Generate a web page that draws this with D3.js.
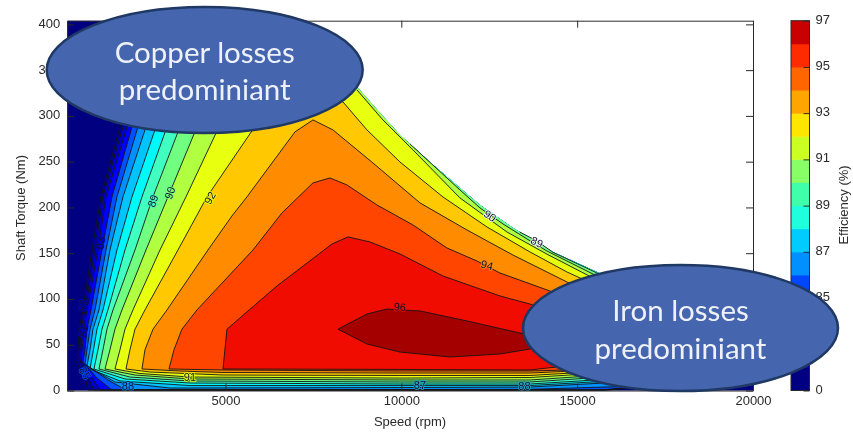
<!DOCTYPE html>
<html><head><meta charset="utf-8">
<script src="https://cdn.jsdelivr.net/npm/d3@7/dist/d3.min.js"></script>
<style>html,body{margin:0;padding:0;background:#fff}svg{display:block}</style>
</head><body><svg id="c" width="853" height="432"></svg>
<script>
// ---- axis ticks ----
const speedTicks = [5000, 10000, 15000, 20000];
const torqueTicks = [0, 50, 100, 150, 200, 250, 300, 350, 400];
const barLevels = [0, 82, 83, 84, 85, 86, 87, 88, 89, 90, 91, 92, 93, 94, 95, 96, 97];
const barTicks = [0, 85, 87, 89, 91, 93, 95, 97];
const barColors = ["#000080","#0000a8","#0000d0","#0000ff","#0048ff","#0090ff","#00ccff","#20ffdd","#40ffaa","#88ff66","#ccff22","#ffe600","#ffa500","#ff6600","#ff2b00","#c80000"];

// ---- operating envelope [rpm, Nm] ----
const envelope = [[7118,404],[8739,331.7],[9392,303.3],[9961,279.2],[10899,246.5],[11667,221.3],[12235,202.7],[13174,177.6],[14311,151.4],[15561,129.5],[17069,99]];
const envelopeEnd = [[18490,75],[20000,55]];

// ---- efficiency contours: left and bottom branch [rpm, Nm] ----
const c81 = [[2228,317.5],[2001,288],[1460,211.5],[1205,153.5],[949,88],[835,67],[807,44.5],[778,30],[1006,13.6],[1091,0.5],[15600,0.5],[17069,4]];
const c82 = [[2313,317.5],[2086,288],[1517,211.5],[1290,153.5],[1006,88],[892,67],[863,44.5],[835,35.5],[1091,13.6],[1261,0.5],[15700,0.5],[17069,5]];
const c83 = [[2427,317.5],[2200,288],[1603,211.5],[1375,153.5],[1062,88],[977,67],[920,44.5],[892,33.3],[1205,13.6],[1432,0.5],[15800,0.5],[17069,6]];
const c84 = [[2598,317.5],[2342,288],[1773,211.5],[1489,153.5],[1176,88],[1062,67],[1006,44.5],[949,31],[1347,13.6],[1773,0.5],[15931,0.5],[17069,7]];
const c85 = [[2768,317.5],[2512,288],[1915,211.5],[1603,153.5],[1290,88],[1148,67],[1062,44.5],[1006,28.9],[1659,11.5],[2143,1.1],[3280,0.9],[7601,0.9],[13657,1.3],[16784,4.9],[17353,9.3]];
const c86 = [[2996,317.5],[2740,288],[2086,211.5],[1716,153.5],[1404,88],[1233,67],[1148,44.5],[1062,26.8],[1858,9.3],[3422,2.7],[9961,3.2],[13657,3.8],[17353,11.5]];
const c87 = [[3280,317.5],[3024,288],[2342,211.5],[1915,153.5],[1517,88],[1347,67],[1247,44.5],[1148,23.5],[2001,10.4],[3991,5.4],[9961,5.4],[13657,5.4],[17353,13.6]];
const c88 = [[3621,317.5],[3337,288],[2626,211.5],[2143,153.5],[1659,88],[1489,67],[1375,44.5],[1261,23.5],[2143,12.6],[3991,8.2],[9961,7.1],[13657,7.1],[17353,15.8]];
const c89 = [[3991,317.5],[3706,288],[2939,211.5],[2427,153.5],[1802,88],[1631,67],[1517,44.5],[1404,23.5],[2285,14.7],[3991,10.4],[9961,9.3],[13657,9.3],[17069,18]];
const c90 = [[4502,317.5],[4190,288],[3365,211.5],[2740,153.5],[2057,88],[1858,67],[1716,44.5],[1574,23.5],[2427,16.9],[3991,12.6],[9961,11.5],[13657,11.5],[17069,20.2]];
const c91 = [[5185,317.5],[4815,288],[3877,211.5],[3138,153.5],[2370,88],[2143,67],[2001,44.5],[1858,23.5],[2569,18.6],[3991,14.7],[9961,13.6],[13657,14.2],[17069,22.4]];
const c92 = [[6322,317.5],[5753,283.6],[4474,211.5],[3650,153.5],[2711,88],[2427,67],[2285,44.5],[2171,23.5],[2854,20.2],[4929,16.9],[9961,16.4],[13657,16.4],[16784,23.5]];
const c93 = [[6976,282.5],[5611,211.5],[5185,190.7],[4502,153.5],[3337,88],[2939,67],[2711,44.5],[2626,23.5],[3706,21.3],[4929,19.7],[9961,19.1],[13657,19.1],[16784,24.6]];
const c94 = [[7488,226.8],[6606,194],[5782,153.5],[4190,88],[3763,67],[3536,44.5],[3394,23.5],[4929,22.4],[9961,21.3],[13657,21.3],[16784,24.6]];
const c95 = [[8028,160],[6464,114.2],[5043,67],[4929,23.5],[9961,23],[13657,22.4],[15647,31]];
const c96 = [[8198,67],[9023,83.6],[9591,89],[10530,86.9],[11866,76],[13373,62.8],[14794,55],[13657,45.3],[12804,39.9],[11383,36.6],[10530,39.9],[9961,42],[9023,50.8]];

// ---- upper-right branches [rpm, Nm] ----
const u89 = [[13373,173],[13856,163.4],[14311,151],[15561,128.5],[17069,99]];
const u90 = [[10245,269.4],[11667,219.1],[12235,199.5],[12889,182],[13572,165.6],[14140,152.4],[15448,127.3],[17069,95]];
const u91 = [[8739,328.4],[9477,295.6],[10330,262.9],[11667,210.4],[13003,173.2],[14140,149],[15448,123],[17353,88]];
const u92 = [[7118,333.9],[8340,315.3],[9023,284.7],[9961,249.7],[11183,211.5],[12434,178.7],[13657,151.4],[14709,129.5],[17069,88]];
const u93 = [[7488,295.6],[8056,284.7],[9193,248.6],[10530,205],[11866,175.4],[13174,148],[14709,118.6],[16784,77]];
const u94 = [[7971,232.2],[8454,224.6],[9307,202.7],[10330,180.9],[11297,155.7],[12150,141.5],[12804,128.4],[14226,108.7],[16215,77]];
const u95 = [[8483,167.8],[9108,162.3],[9961,149.2],[11183,125.1],[12804,103.3],[13657,94.5],[15647,66]];

const contourLevels = [81,82,83,84,85,86,87,88,89,90,91,92,93,94,95,96];
const contourLower = [c81,c82,c83,c84,c85,c86,c87,c88,c89,c90,c91,c92,c93,c94,c95,c96];
const contourFills = ["#00009a","#0000c8","#0000ff","#0050ff","#0090ff","#00c4ff","#00f8f8","#40ffc0","#70ff80","#b0ff40","#e8ff10","#ffc800","#ff8c00","#ff4500","#f00c00","#a50000"];

// ---- contour labels ----
const labelText = ["81","82","83","85","88","89","90","92","91","94","96","90","89","87","88"];
const labelSpeed = [949,949,1432,1006,2228,2939,3422,4559,3991,12434,9961,12520,13856,10530,13500];
const labelTorque = [65,93,161,19,4.9,207,215.8,210.4,14.7,137,91.3,190.7,162,6,4.9];
const labelAngle = [-80,-80,-80,60,0,-70,-70,-60,0,15,5,35,25,0,0];
const labelBack = ["#0000c8","#0000c8","#0000c8","#0050ff","#0090ff","#40ffc0","#70ff80","#e8ff10","#e8ff10","#ff8c00","#f00c00","#ffffff","#ffffff","#20a8c8","#20a8c8"];

// ---- layout ----
const svg = d3.select("#c");
const sans = "'Liberation Sans', Arial, sans-serif";
const ink = "#2a2a2a";
const x = d3.scaleLinear().domain([500, 20000]).range([67.2, 753]);
const y = d3.scaleLinear().domain([0, 404]).range([390.5, 20.7]);
const root = svg.append("g").style("filter", "blur(0.4px)");

// plot fills
const line = d3.line().x(d => x(d[0])).y(d => y(d[1]));
root.append("path")
  .attr("d", line([[500,0],[500,404]].concat(envelope, envelopeEnd, [[20000,0]])) + "Z")
  .attr("fill", "#000080");
const upperOf = {89: envelope.filter(d => d[0] <= 13174).concat(u89),
                 90: envelope.filter(d => d[0] <= 9961).concat(u90),
                 91: u91, 92: u92, 93: u93, 94: u94, 95: u95, 96: []};
contourLevels.forEach((lv, i) => {
  const upper = upperOf[lv] || envelope;
  const poly = contourLower[i].concat(upper.slice().reverse());
  root.append("path").attr("d", line(poly) + "Z").attr("fill", contourFills[i]);
});
// plot contour lines
contourLevels.forEach((lv, i) => {
  const path = lv >= 96 ? line(contourLower[i]) + "Z" : line(contourLower[i]);
  root.append("path").attr("d", path).attr("fill", "none").attr("stroke", "#141414").attr("stroke-width", 0.9);
});
[u89, u90, u91, u92].forEach(u => root.append("path").attr("d", line(u)).attr("fill","none").attr("stroke","#141414").attr("stroke-width",0.9));
[[c93,u93],[c94,u94],[c95,u95]].forEach(p => root.append("path").attr("d", line([p[0][0]].concat(p[1]))).attr("fill","none").attr("stroke","#141414").attr("stroke-width",0.9));

// contour labels
labelText.forEach((t, i) => {
  root.append("text")
    .attr("transform", `translate(${x(labelSpeed[i])},${y(labelTorque[i])}) rotate(${labelAngle[i]})`)
    .attr("text-anchor", "middle").attr("dy", "0.35em")
    .attr("font-family", sans).attr("font-size", 11).attr("fill", "#101030")
    .attr("stroke", labelBack[i]).attr("stroke-width", 1.5).attr("paint-order", "stroke")
    .text(t);
});

// axes
function styleAxis(g) {
  g.selectAll("path,line").attr("stroke", ink).attr("stroke-width", 1);
  g.selectAll("text").attr("font-family", sans).attr("font-size", 13).attr("fill", ink);
}
root.append("g").attr("transform", "translate(0,390.5)")
  .call(d3.axisBottom(x).tickValues(speedTicks).tickSize(-7).tickSizeOuter(0).tickPadding(5).tickFormat(d3.format("d"))).call(styleAxis);
root.append("g").attr("transform", "translate(0,20.7)")
  .call(d3.axisTop(x).tickValues(speedTicks).tickSize(-7).tickSizeOuter(0).tickFormat("")).call(styleAxis);
root.append("g").attr("transform", "translate(67.2,0)")
  .call(d3.axisLeft(y).tickValues(torqueTicks).tickSize(-7).tickSizeOuter(0).tickPadding(7)).call(styleAxis)
  .selectAll("text").attr("dy", "0.22em");
root.append("g").attr("transform", "translate(753,0)")
  .call(d3.axisRight(y).tickValues(torqueTicks).tickSize(-7).tickSizeOuter(0).tickFormat("")).call(styleAxis);
root.append("text").attr("x", 410).attr("y", 426).attr("text-anchor", "middle")
  .attr("font-family", sans).attr("font-size", 13).attr("fill", ink).text("Speed (rpm)");
root.append("text").attr("transform", "translate(25,208) rotate(-90)").attr("text-anchor", "middle")
  .attr("font-family", sans).attr("font-size", 13).attr("fill", ink).text("Shaft Torque (Nm)");

// colour bar
const barY = d3.scalePoint().domain(barLevels).range([390.5, 20.7]);
root.append("g").selectAll("rect").data(barColors).join("rect")
  .attr("x", 791).attr("width", 18.5)
  .attr("y", (d, i) => barY(barLevels[i + 1]))
  .attr("height", (d, i) => barY(barLevels[i]) - barY(barLevels[i + 1]) + 0.5)
  .attr("fill", d => d);
root.append("rect").attr("x", 791).attr("y", 20.7).attr("width", 18.5).attr("height", 369.8)
  .attr("fill", "none").attr("stroke", ink).attr("stroke-width", 1);
root.append("g").attr("transform", "translate(809.5,0)")
  .call(d3.axisRight(barY).tickValues(barTicks).tickSize(-6).tickSizeOuter(0).tickPadding(6)).call(styleAxis)
  .call(g => g.select(".domain").remove())
  .selectAll("text").attr("dy", "0.2em");
root.append("text").attr("transform", "translate(848,205) rotate(-90)").attr("text-anchor", "middle")
  .attr("font-family", sans).attr("font-size", 13).attr("fill", ink).text("Efficiency (%)");

// callouts
const calloutFont = "Lato, 'Open Sans', sans-serif";
function callout(cx, cy, rx, ry, t1, y1, t2, y2) {
  root.append("ellipse").attr("cx", cx).attr("cy", cy).attr("rx", rx).attr("ry", ry)
    .attr("fill", "#4566ae").attr("stroke", "#1f3864").attr("stroke-width", 2.5);
  [[t1, y1], [t2, y2]].forEach(p => root.append("text").attr("x", cx).attr("y", p[1])
    .attr("text-anchor", "middle").attr("font-family", calloutFont).attr("font-size", 29.5)
    .attr("fill", "#eef1f8").text(p[0]));
}
callout(204.7, 70, 158, 63, "Copper losses", 63, "predominiant", 100);
callout(680.5, 328, 157.5, 63, "Iron losses", 321, "predominiant", 359);
</script></body></html>
